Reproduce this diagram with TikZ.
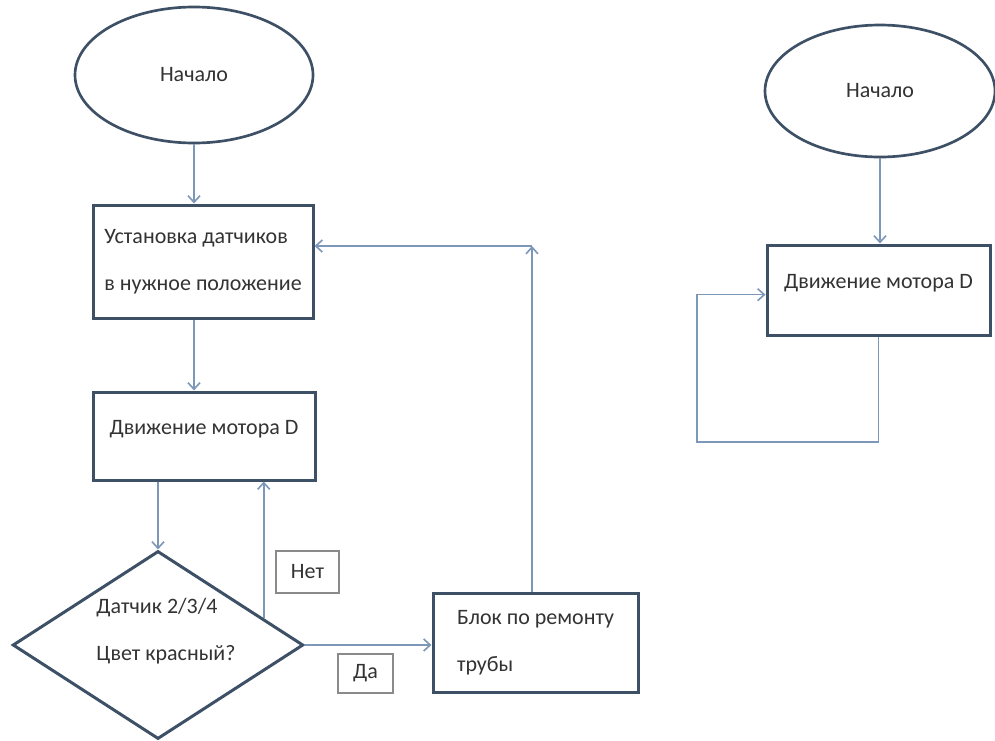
\documentclass[tikz,border=0pt]{standalone}
\usepackage{fontspec}
\setmainfont{Carlito}
\usepackage{xcolor}
\usepackage{tikz}
\usetikzlibrary{shapes.geometric,calc,arrows.meta}

\definecolor{shapeline}{HTML}{3D5066}
\definecolor{connline}{HTML}{7C97B7}
\definecolor{tagline}{HTML}{8A8A8A}
\definecolor{textgray}{HTML}{333333}

\begin{document}
\begin{tikzpicture}[x=0.75pt,y=-0.75pt,
  every node/.style={font=\fontsize{16.5pt}{35pt}\selectfont, text=textgray},
  term/.style={ellipse, draw=shapeline, line width=2pt, fill=white, inner sep=0pt},
  block/.style={rectangle, draw=shapeline, line width=2.25pt, fill=white, align=left},
  decision/.style={diamond, draw=shapeline, line width=2.25pt, fill=white, inner sep=0pt},
  tag/.style={rectangle, draw=tagline, line width=0.9pt, inner sep=0pt},
  conn/.style={draw=connline, line width=1.2pt, -{Straight Barb[length=5pt,width=9pt]}}]

\useasboundingbox (0,0) rectangle (995,740);

% левая схема
\node[term, minimum width=178.5pt, minimum height=102pt] (start1) at (194,75) {Начало};
\node[block, minimum width=165pt, minimum height=84.75pt] (set) at (203,261.5) {Установка датчиков\\в нужное положение};
\node[block, minimum width=166.5pt, minimum height=66pt, text depth=13pt] (motor1) at (204,436) {Движение мотора D};
\node[decision, minimum width=218pt, minimum height=141pt,
  label={[align=left, xshift=6pt, yshift=10.5pt]center:Датчик 2/3/4\\Цвет красный?}] (check) at (158,645) {};
\node[block, minimum width=153.75pt, minimum height=74.25pt] (repair) at (535.5,642.5) {Блок по ремонту\\трубы};
\node[tag, minimum width=47.25pt, minimum height=31.5pt] (no) at (307.5,572) {Нет};
\node[tag, minimum width=41.25pt, minimum height=29.25pt] (yes) at (365.5,673.5) {Да};

\draw[conn] (start1.south) -- (start1.south |- set.north);
\draw[conn] (set.south -| start1.south) -- (motor1.north -| start1.south);
\draw[conn] (motor1.south -| check.north) -- (check.north);

% ветка "Нет" и ветка "Да"
\coordinate (nofoot) at ($(check.north)!0.72!(check.east)$);
\draw[conn] (nofoot) -- (nofoot |- motor1.south);
\draw[conn] (check.east) -- (check.east -| repair.west);
\coordinate (turn) at (532,246);
\draw[conn] (repair.north -| turn) -- (turn);
\draw[conn] (turn) -- (turn -| set.east);

% правая схема
\node[term, minimum width=172.5pt, minimum height=99pt] (start2) at (880,91) {Начало};
\node[block, minimum width=167.25pt, minimum height=67.5pt, text depth=13pt] (motor2) at (878.5,290) {Движение мотора D};

\draw[conn] (start2.south) -- (start2.south |- motor2.north);
\coordinate (loop) at (697,442);
\draw[conn] (motor2.south) |- (loop) |- ([yshift=-3.5pt]motor2.west);

\end{tikzpicture}
\end{document}
